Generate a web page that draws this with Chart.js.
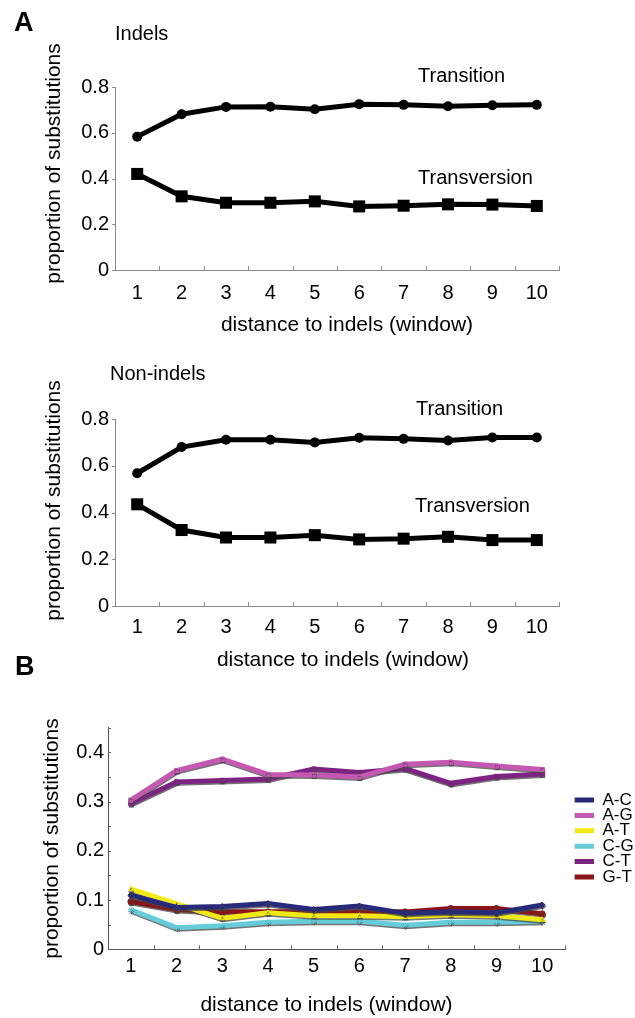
<!DOCTYPE html>
<html><head><meta charset="utf-8">
<script src="https://cdn.jsdelivr.net/npm/chart.js@4.4.1/dist/chart.umd.min.js"></script>
<style>
html,body{margin:0;padding:0;background:#fff;}
#wrap{position:relative;width:635px;height:1018px;overflow:hidden;font-family:'Liberation Sans',Arial,sans-serif;color:#000;}
canvas{position:absolute;left:0;}
.t{position:absolute;white-space:nowrap;line-height:1.15;transform:translateY(-50%);}
</style></head><body>
<div id="wrap">
<canvas id="c1" width="635" height="345" style="top:0"></canvas>
<canvas id="c2" width="635" height="340" style="top:345px"></canvas>
<canvas id="c3" width="635" height="333" style="top:685px"></canvas>
<div class="t" style="left:14px;top:23px;font-size:27px;font-weight:bold">A</div>
<div class="t" style="left:115px;top:33px;font-size:20px">Indels</div>
<div class="t" style="left:418px;top:75px;font-size:20px">Transition</div>
<div class="t" style="left:418px;top:177px;font-size:20px">Transversion</div>
<div class="t" style="left:110px;top:373px;font-size:20px">Non-indels</div>
<div class="t" style="left:416px;top:408px;font-size:20px">Transition</div>
<div class="t" style="left:415px;top:505px;font-size:20px">Transversion</div>
<div class="t" style="left:15px;top:667px;font-size:27px;font-weight:bold">B</div>
</div>
<script>
// ---- data ----
const categories = ['1','2','3','4','5','6','7','8','9','10'];
const indelsTransition      = [0.583, 0.681, 0.713, 0.714, 0.703, 0.725, 0.722, 0.716, 0.720, 0.722];
const indelsTransversion    = [0.420, 0.322, 0.294, 0.294, 0.300, 0.278, 0.281, 0.287, 0.286, 0.280];
const nonIndelsTransition   = [0.568, 0.680, 0.711, 0.711, 0.700, 0.720, 0.715, 0.708, 0.721, 0.721];
const nonIndelsTransversion = [0.435, 0.325, 0.293, 0.293, 0.303, 0.285, 0.288, 0.296, 0.282, 0.282];
const seriesAC = [0.110, 0.085, 0.087, 0.093, 0.081, 0.088, 0.073, 0.076, 0.074, 0.090];
const seriesAG = [0.303, 0.363, 0.386, 0.355, 0.354, 0.350, 0.376, 0.380, 0.372, 0.365];
const seriesAT = [0.122, 0.092, 0.063, 0.074, 0.068, 0.068, 0.066, 0.070, 0.068, 0.060];
const seriesCG = [0.080, 0.044, 0.048, 0.055, 0.057, 0.057, 0.049, 0.055, 0.055, 0.057];
const seriesCT = [0.296, 0.340, 0.343, 0.346, 0.366, 0.359, 0.367, 0.337, 0.351, 0.356];
const seriesGT = [0.097, 0.081, 0.076, 0.076, 0.076, 0.076, 0.076, 0.083, 0.083, 0.072];
const pairLabels = ['A-C','A-G','A-T','C-G','C-T','G-T'];
const yTicksA = [0, 0.2, 0.4, 0.6, 0.8];
const yTicksB = [0, 0.1, 0.2, 0.3, 0.4];
const xTitle = 'distance to indels (window)';
const yTitle = 'proportion of substitutions';

Chart.defaults.font.family = "'Liberation Sans', Arial, sans-serif";
Chart.defaults.color = '#000';
Chart.defaults.animation = false;

const tickMarks = {
  id: 'tickMarks',
  beforeDatasetsDraw(chart, args, o) {
    const ctx = chart.ctx, x = chart.scales.x, y = chart.scales.y, a = chart.chartArea;
    ctx.save(); ctx.strokeStyle = o.color; ctx.lineWidth = 1; ctx.beginPath();
    const n = x.ticks.length;
    for (let i = 1; i <= n; i++) {
      const px = i < n ? (x.getPixelForTick(i - 1) + x.getPixelForTick(i)) / 2 : a.right;
      const X = Math.round(px) + 0.5;
      ctx.moveTo(X, a.bottom); ctx.lineTo(X, a.bottom - o.xLen);
    }
    y.ticks.forEach(t => {
      const Y = Math.round(y.getPixelForValue(t.value)) + 0.5;
      ctx.moveTo(a.left, Y); ctx.lineTo(a.left + o.yDir * o.yLen, Y);
    });
    ctx.stroke(); ctx.restore();
  }
};
const lineShadow = {
  id: 'lineShadow',
  beforeDatasetDraw(chart, args, o) {
    if (!o.enabled) return;
    const c = chart.ctx; c.save();
    c.shadowColor = o.color; c.shadowOffsetX = o.dx; c.shadowOffsetY = o.dy; c.shadowBlur = o.blur;
  },
  afterDatasetDraw(chart, args, o) { if (o.enabled) chart.ctx.restore(); }
};
const legendPlace = {
  id: 'legendPlace',
  beforeLayout(chart, args, o) {
    const lg = chart.legend;
    if (lg && !lg._patched) {
      const f = lg.fit;
      lg.fit = function () { f.call(this); this.width = o.width; };
      lg._patched = true;
    }
  },
  afterLayout(chart, args, o) {
    const lg = chart.legend;
    if (lg) { lg.left += o.shift; lg.right += o.shift; }
  }
};
// moves the axis titles along their axis (the source figure does not centre them)
const titleShift = {
  id: 'titleShift',
  beforeDraw(chart, args, o) {
    const sx = chart.scales.x, sy = chart.scales.y;
    if (sx && !sx._ts) {
      const f = sx.drawTitle;
      sx.drawTitle = function () { const l = this.left, r = this.right; this.left += o.dx; this.right += o.dx; f.call(this); this.left = l; this.right = r; };
      sx._ts = true;
    }
    if (sy && !sy._ts) {
      const f = sy.drawTitle;
      sy.drawTitle = function () { const t = this.top, b = this.bottom; this.top += o.dy; this.bottom += o.dy; f.call(this); this.top = t; this.bottom = b; };
      sy._ts = true;
    }
  }
};

function fmt(v, allowed) {
  for (const a of allowed) if (Math.abs(a - v) < 1e-6) return a === 0 ? '0' : a.toFixed(1);
  return '';
}

function panelA(id, trans, transv, geo) {
  return new Chart(document.getElementById(id), {
    type: 'line',
    data: {
      labels: categories,
      datasets: [
        { label: 'Transition', data: trans, borderColor: '#000', backgroundColor: '#000', borderWidth: 5,
          pointStyle: 'circle', pointRadius: 5, pointBackgroundColor: '#000', pointBorderWidth: 0, tension: 0, clip: false },
        { label: 'Transversion', data: transv, borderColor: '#000', backgroundColor: '#000', borderWidth: 5,
          pointStyle: 'rect', pointRadius: 8.5, pointBackgroundColor: '#000', pointBorderWidth: 0, tension: 0, clip: false }
      ]
    },
    options: {
      responsive: false, devicePixelRatio: 1,
      layout: { padding: { top: geo.top, right: geo.right, bottom: 0, left: 0 } },
      plugins: {
        legend: { display: false }, tooltip: { enabled: false },
        tickMarks: { color: '#8a8a8a', xLen: 4, yLen: 3, yDir: -1 },
        lineShadow: { enabled: false },
        titleShift: { dx: geo.tdx, dy: geo.tdy }
      },
      scales: {
        x: {
          type: 'category', offset: true,
          grid: { drawOnChartArea: false, drawTicks: false, offset: true },
          border: { display: true, color: '#8a8a8a', width: 1 },
          ticks: { font: { size: 20 }, padding: geo.xPad, maxRotation: 0 },
          title: { display: true, text: xTitle, font: { size: 21 }, padding: { top: 0, bottom: geo.xTitlePad } },
          afterFit(s) { s.height = geo.xH; }
        },
        y: {
          min: 0, max: 0.8,
          grid: { drawOnChartArea: false, drawTicks: false },
          border: { display: true, color: '#8a8a8a', width: 1 },
          ticks: { stepSize: 0.2, font: { size: 20 }, padding: 6, callback: v => fmt(v, yTicksA) },
          title: { display: true, text: yTitle, font: { size: 21 }, padding: { top: 42, bottom: 0 } },
          afterFit(s) { s.width = 115; }
        }
      }
    },
    plugins: [tickMarks, lineShadow, titleShift]
  });
}

panelA('c1', indelsTransition, indelsTransversion, { top: 87, right: 76, xH: 75, xPad: 11, xTitlePad: 7.4, tdx: 10, tdy: -15 });
panelA('c2', nonIndelsTransition, nonIndelsTransversion, { top: 74, right: 76, xH: 79, xPad: 9, xTitlePad: 12.4, tdx: 6, tdy: -12 });

const colorsB = ['#262a78', '#c558b2', '#f2e914', '#66ccd9', '#7d2483', '#8a1518'];
const stylesB = ['rectRot', 'rect', 'triangle', 'star', 'rect', 'circle'];
const valuesB = [seriesAC, seriesAG, seriesAT, seriesCG, seriesCT, seriesGT];

new Chart(document.getElementById('c3'), {
  type: 'line',
  data: {
    labels: categories,
    datasets: pairLabels.map((lab, i) => ({
      label: lab, data: valuesB[i], borderColor: colorsB[i], backgroundColor: colorsB[i], borderWidth: 5,
      pointStyle: stylesB[i], pointRadius: 3, pointBackgroundColor: colorsB[i], pointBorderColor: colorsB[i],
      pointBorderWidth: 1, tension: 0, clip: false
    }))
  },
  options: {
    responsive: false, devicePixelRatio: 1,
    layout: { padding: { top: 42.7, right: 0, bottom: 0, left: 0 } },
    plugins: {
      tooltip: { enabled: false },
      legend: {
        display: true, position: 'right', align: 'center', fullSize: false,
        labels: {
          boxWidth: 21, boxHeight: 5, padding: -1.6, font: { size: 17 }, color: '#000',
          generateLabels(chart) {
            return Chart.defaults.plugins.legend.labels.generateLabels(chart).map(it => Object.assign(it, { lineWidth: 0, strokeStyle: 'rgba(0,0,0,0)' }));
          }
        }
      },
      legendPlace: { width: 70, shift: 9.6 },
      tickMarks: { color: '#666', xLen: 4, yLen: 3, yDir: 1 },
      lineShadow: { enabled: true, color: 'rgba(70,70,70,0.75)', dx: 0.5, dy: 1.5, blur: 0 },
      titleShift: { dx: -10, dy: 0 }
    },
    scales: {
      x: {
        type: 'category', offset: true,
        grid: { drawOnChartArea: false, drawTicks: false, offset: true },
        border: { display: true, color: '#555', width: 1 },
        ticks: { font: { size: 20 }, padding: 4.7, maxRotation: 0 },
        title: { display: true, text: xTitle, font: { size: 21 }, padding: { top: 0, bottom: 0.4 } },
        afterFit(s) { s.height = 68.7; }
      },
      y: {
        min: 0, max: 0.45,
        grid: { drawOnChartArea: false, drawTicks: false },
        border: { display: true, color: '#555', width: 1 },
        ticks: { stepSize: 0.05, font: { size: 20 }, padding: 4, autoSkip: false, callback: v => fmt(v, yTicksB) },
        title: { display: true, text: yTitle, font: { size: 21 }, padding: { top: 40, bottom: 0 } },
        afterFit(s) { s.width = 108; }
      }
    }
  },
  plugins: [tickMarks, lineShadow, legendPlace, titleShift]
});
</script>
</body></html>
